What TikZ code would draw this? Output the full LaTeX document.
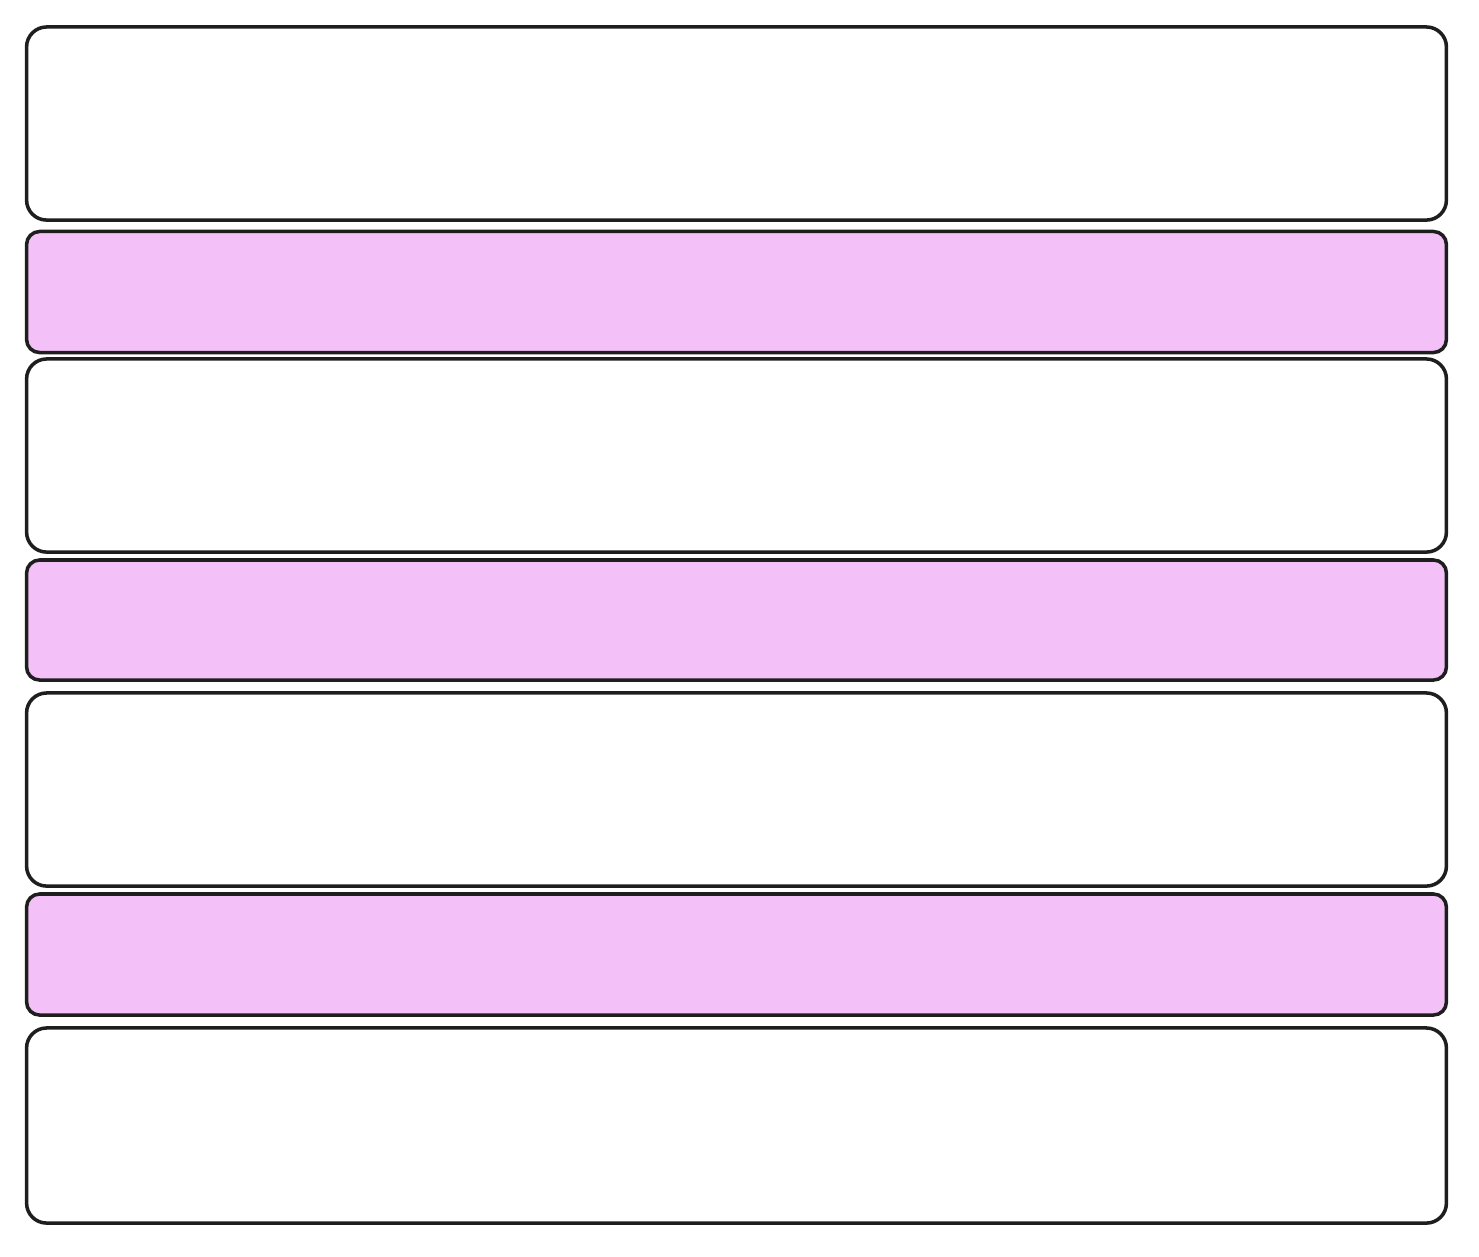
\documentclass[tikz,border=0pt]{standalone}
\usepackage{tikz}
\usetikzlibrary{positioning}
\definecolor{bandpink}{HTML}{F3C1F8}
\definecolor{inkline}{HTML}{1E1E1E}
\tikzstyle{wideband} = [draw=inkline, line width=1pt, fill=white, rounded corners=0.2cm, inner sep=0pt, minimum width=14.19cm, minimum height=1.93cm]
\tikzstyle{thinband} = [draw=inkline, line width=1pt, fill=bandpink, rounded corners=0.13cm, inner sep=0pt, minimum width=14.19cm, minimum height=1.21cm]

\begin{document}
\begin{tikzpicture}[x=0.01cm, y=-0.01cm]
    \useasboundingbox (0,0) rectangle (1479,1256);
    \node[wideband] (band1) at (736.5,123.5) {};
    \node[thinband] (band2) at (736.5,292) {};
    \node[wideband] (band3) at (736.5,455.5) {};
    \node[thinband, minimum height=1.2cm] (band4) at (736.5,620) {};
    \node[wideband] (band5) at (736.5,789.5) {};
    \node[thinband] (band6) at (736.5,954.5) {};
    \node[wideband, minimum height=1.95cm] (band7) at (736.5,1125.5) {};
\end{tikzpicture}
\end{document}
